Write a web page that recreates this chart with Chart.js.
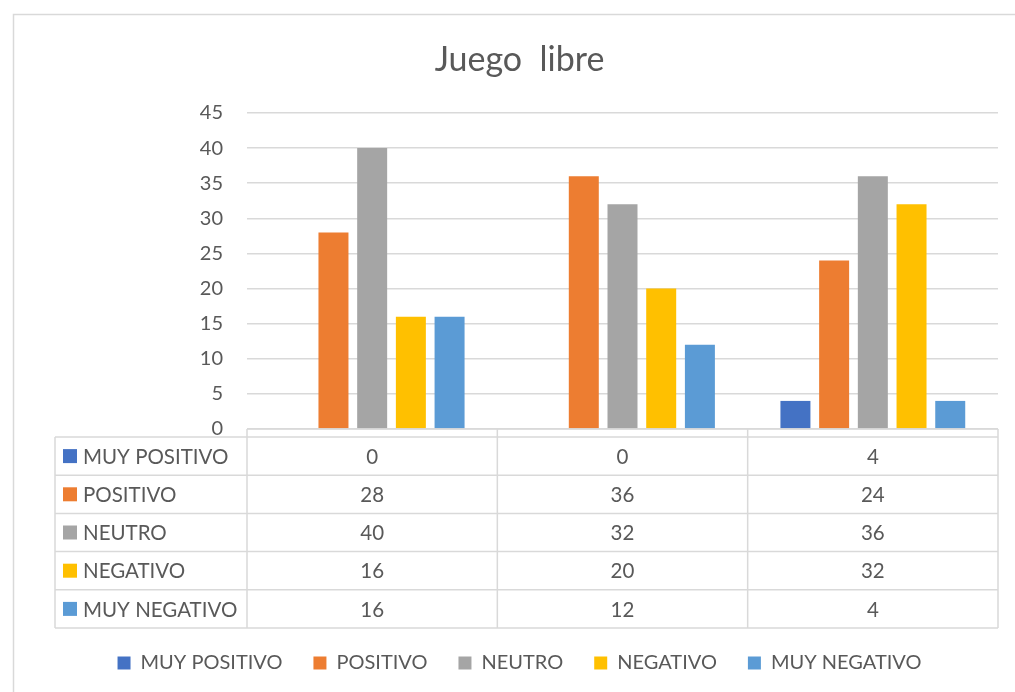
<!DOCTYPE html>
<html lang="es">
<head>
<meta charset="UTF-8">
<title>Juego libre</title>
<style>
  html, body { margin: 0; padding: 0; background: #fff; }
  #wrap { width: 1015px; height: 692px; }
</style>
</head>
<body>
<div id="wrap"><canvas id="myChart" width="1015" height="692"></canvas></div>

<script src="https://cdn.jsdelivr.net/npm/chart.js"></script>
<script>
// datos
const categorias = ['', '', ''];
const series = ['MUY POSITIVO', 'POSITIVO', 'NEUTRO', 'NEGATIVO', 'MUY NEGATIVO'];
const muyPositivo = [0, 0, 4];
const positivo = [28, 36, 24];
const neutro = [40, 32, 36];
const negativo = [16, 20, 32];
const muyNegativo = [16, 12, 4];
const yTicks = [0, 5, 10, 15, 20, 25, 30, 35, 40, 45];

const colores = ['#4472C4', '#ED7D31', '#A5A5A5', '#FFC000', '#5B9BD5'];
const valores = [muyPositivo, positivo, neutro, negativo, muyNegativo];
const FUENTE = 'Lato, "Liberation Sans", sans-serif';
const GRIS = '#595959';
const LINEA = '#d9d9d9';

// marco y fondo
const marco = {
  id: 'marco',
  beforeDraw(chart) {
    const c = chart.ctx;
    c.save();
    c.fillStyle = '#fff';
    c.fillRect(0, 0, chart.width, chart.height);
    c.strokeStyle = LINEA;
    c.lineWidth = 1.5;
    c.strokeRect(13.5, 14.5, 1200, 900);
    c.restore();
  }
};

// tabla de datos bajo el grafico
const tabla = {
  id: 'tabla',
  afterDraw(chart) {
    const c = chart.ctx;
    const xs = chart.scales.x;
    const area = chart.chartArea;
    const top = area.bottom;
    const cab = 8;
    const fila = 38.2;
    const izq = area.left - 192;
    const ancho = (area.right - area.left) / categorias.length;
    const fondo = top + cab + fila * series.length;

    c.save();
    c.strokeStyle = LINEA;
    c.lineWidth = 1.5;
    c.beginPath();
    c.moveTo(area.left, top);
    c.lineTo(area.right, top);
    for (let k = 0; k <= series.length; k++) {
      const y = top + cab + k * fila;
      c.moveTo(izq, y);
      c.lineTo(area.right, y);
    }
    for (let i = 0; i <= categorias.length; i++) {
      const x = area.left + i * ancho;
      c.moveTo(x, top);
      c.lineTo(x, fondo);
    }
    c.moveTo(izq, top + cab);
    c.lineTo(izq, fondo);
    c.stroke();

    c.font = '20.5px ' + FUENTE;
    c.textBaseline = 'middle';
    series.forEach((nombre, k) => {
      const yc = top + cab + k * fila + fila / 2;
      c.fillStyle = colores[k];
      c.fillRect(izq + 8, yc - 7, 14, 14);
      c.fillStyle = GRIS;
      c.textAlign = 'left';
      c.fillText(nombre, izq + 28, yc + 1);
      c.textAlign = 'center';
      valores[k].forEach((v, i) => {
        c.fillText(String(v), xs.getPixelForValue(i), yc + 1);
      });
    });
    c.restore();
  }
};

const ctx = document.getElementById('myChart');
const myChart = new Chart(ctx, {
  type: 'bar',
  data: {
    labels: categorias,
    datasets: series.map((nombre, k) => ({
      label: nombre,
      data: valores[k],
      backgroundColor: colores[k],
      borderColor: colores[k],
      borderWidth: 0,
      categoryPercentage: 0.773,
      barPercentage: 0.775
    }))
  },
  options: {
    responsive: false,
    animation: false,
    layout: { padding: { top: 0, left: 41, right: 17, bottom: 9 } },
    plugins: {
      title: {
        display: true,
        text: 'Juego  libre',
        color: GRIS,
        font: { family: FUENTE, size: 34, weight: 'normal' },
        padding: { top: 39.6, bottom: 32.6 }
      },
      legend: {
        position: 'bottom',
        labels: {
          color: GRIS,
          font: { family: FUENTE, size: 20 },
          boxWidth: 13,
          boxHeight: 13,
          padding: 31
        }
      },
      tooltip: { enabled: false }
    },
    scales: {
      x: {
        grid: { display: false },
        border: { display: false },
        ticks: { display: false },
        afterFit(s) { s.height = 193; }
      },
      y: {
        min: 0,
        max: 45,
        afterBuildTicks(s) { s.ticks = yTicks.map(v => ({ value: v })); },
        ticks: { color: GRIS, font: { family: FUENTE, size: 20 }, padding: 24 },
        grid: { color: LINEA, lineWidth: 1.5, drawTicks: false },
        border: { display: false },
        afterFit(s) { s.width = 206; }
      }
    }
  },
  plugins: [marco, tabla]
});
</script>
</body>
</html>
